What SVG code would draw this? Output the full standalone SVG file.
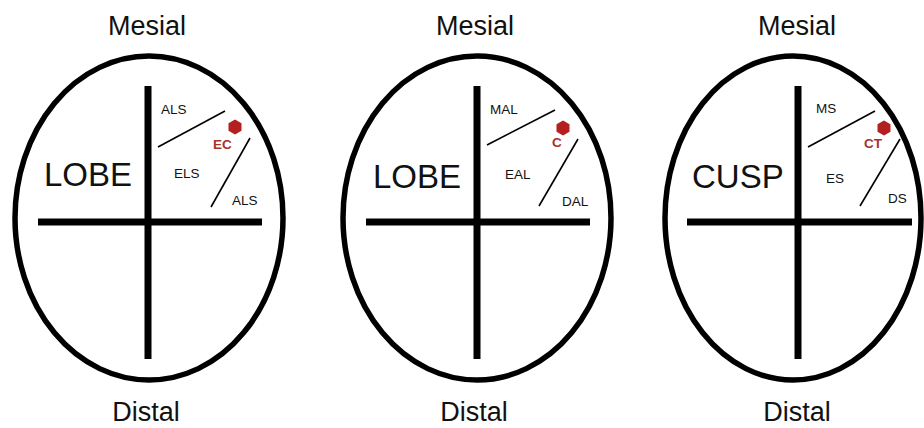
<svg xmlns="http://www.w3.org/2000/svg" width="924" height="428" viewBox="0 0 924 428">
<style>
.oval{fill:none;stroke:#000;stroke-width:5.5}
.bar{stroke:#000;stroke-width:7}
.thin{stroke:#000;stroke-width:1.6}
.big{font-family:"Liberation Sans",Arial,sans-serif;font-size:27px;fill:#111;text-anchor:middle}
.lobe{font-family:"Liberation Sans",Arial,sans-serif;font-size:33px;fill:#111}
.sm{font-family:"Liberation Sans",Arial,sans-serif;font-size:13.5px;fill:#111}
.red{font-family:"Liberation Sans",Arial,sans-serif;font-size:13.5px;font-weight:bold;fill:#a8322c}
.hex{fill:#b3201f}
</style>
<defs>
<polygon id="hx" points="0,-7.5 6.5,-3.75 6.5,3.75 0,7.5 -6.5,3.75 -6.5,-3.75"/>
</defs>
<rect width="924" height="428" fill="#fff"/>
<g id="diagram1">
<text class="big" x="147" y="35">Mesial</text>
<ellipse class="oval" cx="149" cy="218" rx="134" ry="162"/>
<line class="bar" x1="148" y1="86" x2="148" y2="359"/>
<line class="bar" x1="38" y1="222" x2="262" y2="222"/>
<text class="lobe" x="44" y="186">LOBE</text>
<text class="sm" x="161" y="114">ALS</text>
<line class="thin" x1="158" y1="147" x2="225" y2="111"/>
<use href="#hx" class="hex" x="235" y="127"/>
<text class="red" x="213" y="149">EC</text>
<line class="thin" x1="250" y1="138" x2="211" y2="207"/>
<text class="sm" x="174" y="178">ELS</text>
<text class="sm" x="232" y="205">ALS</text>
<text class="big" x="146" y="421">Distal</text>
</g>
<g id="diagram2">
<text class="big" x="475" y="35">Mesial</text>
<ellipse class="oval" cx="477" cy="218" rx="134" ry="162"/>
<line class="bar" x1="477" y1="86" x2="477" y2="359"/>
<line class="bar" x1="366" y1="222" x2="590" y2="222"/>
<text class="lobe" x="373" y="188">LOBE</text>
<text class="sm" x="490" y="114">MAL</text>
<line class="thin" x1="487" y1="145" x2="555" y2="110"/>
<use href="#hx" class="hex" x="563" y="128"/>
<text class="red" x="552" y="147">C</text>
<line class="thin" x1="578" y1="139" x2="539" y2="206"/>
<text class="sm" x="505" y="179">EAL</text>
<text class="sm" x="562" y="206">DAL</text>
<text class="big" x="474" y="421">Distal</text>
</g>
<g id="diagram3">
<text class="big" x="797" y="35">Mesial</text>
<ellipse class="oval" cx="793" cy="218" rx="128" ry="162"/>
<line class="bar" x1="798" y1="86" x2="798" y2="359"/>
<line class="bar" x1="687" y1="222" x2="912" y2="222"/>
<text class="lobe" x="692" y="188">CUSP</text>
<text class="sm" x="816" y="113">MS</text>
<line class="thin" x1="808" y1="147" x2="875" y2="111"/>
<use href="#hx" class="hex" x="884" y="128"/>
<text class="red" x="864" y="148">CT</text>
<line class="thin" x1="900" y1="139" x2="860" y2="206"/>
<text class="sm" x="826" y="183">ES</text>
<text class="sm" x="888" y="203">DS</text>
<text class="big" x="797" y="421">Distal</text>
</g>
</svg>
